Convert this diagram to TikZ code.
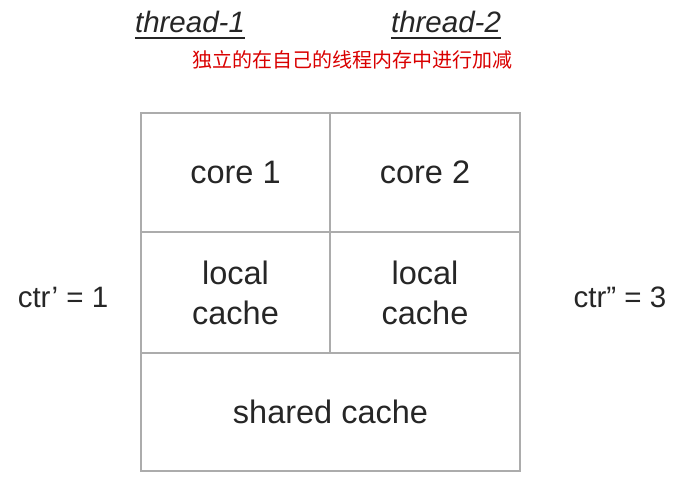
\documentclass[tikz,border=0pt]{standalone}
\usepackage{fontspec}
\setmainfont{Liberation Sans}
\newfontfamily\cjk{Noto Sans CJK SC}
\begin{document}
\begin{tikzpicture}[x=1pt,y=-1pt,
  cell/.style={draw=gray!65,line width=1.6pt,rectangle,inner sep=0pt,
    font=\fontsize{32.5}{40}\selectfont,text=black!85,align=center},
  lbl/.style={inner sep=0pt,font=\fontsize{29.5}{34}\selectfont,text=black!85},
  thr/.style={inner sep=0pt,font=\fontsize{29.5}{34}\selectfont\itshape,text=black!85}]
\useasboundingbox (0,0) rectangle (677,495);
\node[cell,minimum width=189pt,minimum height=119pt] (c1) at (235.5,172.5) {core 1};
\node[cell,minimum width=190pt,minimum height=119pt] (c2) at (425,172.5) {core 2};
\node[cell,minimum width=189pt,minimum height=121pt] (l1) at (235.5,292.5) {local\\cache};
\node[cell,minimum width=190pt,minimum height=121pt] (l2) at (425,292.5) {local\\cache};
\node[cell,minimum width=379pt,minimum height=118pt] (sc) at (330.5,412) {shared cache};
\node[lbl] (ca) at (63,297) {ctr’ = 1};
\node[lbl] (cb) at (620,297) {ctr” = 3};
\node[thr] (t1) at (190,22) {thread-1};
\node[thr] (t2) at (446,22) {thread-2};
\draw[line width=2pt,black!85] (t1.base west) ++(0,5) coordinate (u1a) -- (t1.base east |- u1a);
\draw[line width=2pt,black!85] (t2.base west) ++(0,5) coordinate (u2a) -- (t2.base east |- u2a);
\node[inner sep=0pt,text=red!85!black,font=\cjk\fontsize{20}{24}\selectfont] (cn) at (352,60) {独立的在自己的线程内存中进行加减};
\end{tikzpicture}
\end{document}
